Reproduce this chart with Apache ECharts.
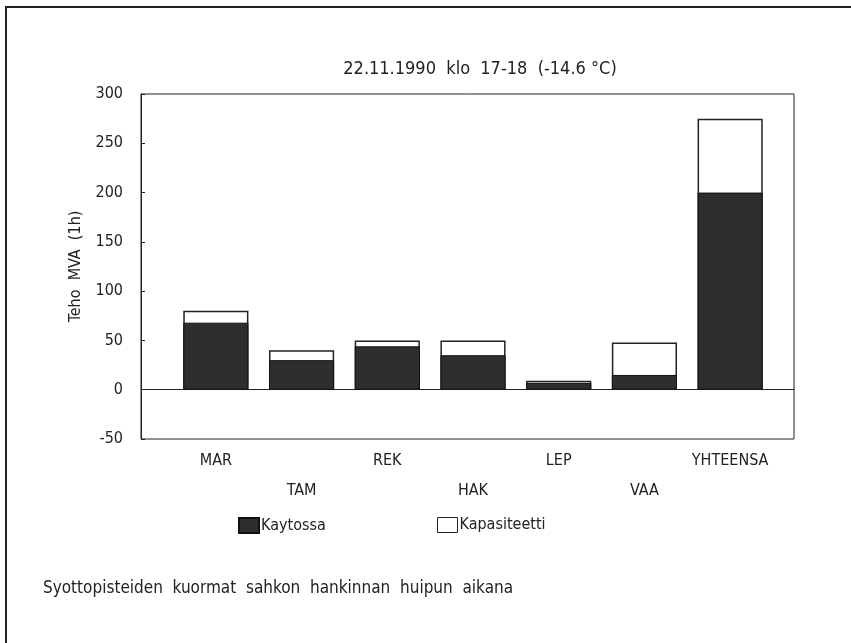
<!DOCTYPE html>
<html>
<head>
<meta charset="utf-8">
<script src="https://cdn.jsdelivr.net/npm/echarts@6/dist/echarts.min.js"></script>
<style>html,body{margin:0;padding:0;background:#fff}#c{width:851px;height:643px}</style>
</head>
<body>
<div id="c"></div>
<script>
const categories = ['MAR', 'TAM', 'REK', 'HAK', 'LEP', 'VAA', 'YHTEENSA'];
const kaytossa = [68, 30, 44, 35, 7, 15, 200];
const kapasiteetti = [80, 40, 50, 50, 9, 48, 275];
const yTicks = { min: -50, max: 300, interval: 50 };

const FONT = "'Liberation Sans Narrow', 'DejaVu Sans Condensed', 'Liberation Sans', sans-serif";
const chart = echarts.init(document.getElementById('c'));
chart.setOption({
  backgroundColor: '#fff',
  animation: false,
  textStyle: { fontFamily: FONT, color: '#222' },
  title: [
    { text: '22.11.1990  klo  17-18  (-14.6 °C)', left: 475, textAlign: 'center', top: 55,
      textStyle: { fontFamily: FONT, fontSize: 18, fontWeight: 'normal', color: '#222' } },
    { text: 'Syottopisteiden  kuormat  sahkon  hankinnan  huipun  aikana', left: 38, top: 575,
      textStyle: { fontFamily: FONT, fontSize: 17, fontWeight: 'normal', color: '#222' } }
  ],
  legend: [
    { data: ['Kaytossa'], icon: 'rect', left: 233, top: 512, itemWidth: 20, itemHeight: 15,
      textStyle: { fontFamily: FONT, fontSize: 16, color: '#222', padding: [0,0,0,-3] } },
    { data: [{ name: 'Kapasiteetti', itemStyle: { color: '#fff', borderColor: '#222', borderWidth: 1 } }],
      icon: 'rect', left: 432, top: 512, itemWidth: 20, itemHeight: 15,
      textStyle: { fontFamily: FONT, fontSize: 16, color: '#222', padding: [0,0,0,-3] } }
  ],
  graphic: [
    { type: 'polyline', shape: { points: [[6, 643], [6, 7], [851, 7]] },
      style: { stroke: '#222', lineWidth: 2, fill: null } }
  ],
  grid: [
    { left: 141, right: 57, top: 94, bottom: 204, show: true, borderColor: '#222', borderWidth: 1 },
    { left: 173, right: 78, top: 94, bottom: 204 }
  ],
  xAxis: [
    { gridIndex: 0, type: 'value', min: 0, max: 1, axisLine: { show: true, onZero: true, lineStyle: { color: '#222' } },
      axisTick: { show: false }, axisLabel: { show: false }, splitLine: { show: false } },
    { gridIndex: 1, type: 'category', data: categories, axisLine: { show: false }, axisTick: { show: false },
      axisLabel: { margin: 7, fontSize: 16, lineHeight: 30, color: '#222', fontFamily: FONT, interval: 0,
        formatter: (v, i) => (i % 2 ? '\n' + v : v) } }
  ],
  yAxis: [
    { gridIndex: 0, type: 'value', min: yTicks.min, max: yTicks.max, interval: yTicks.interval,
      name: 'Teho  MVA  (1h)', nameLocation: 'middle', nameGap: 57,
      nameTextStyle: { fontFamily: FONT, fontSize: 16, color: '#222' },
      axisLine: { show: true, lineStyle: { color: '#222' } },
      axisTick: { show: true, inside: true, length: 4, lineStyle: { color: '#222' } },
      axisLabel: { fontSize: 16, color: '#222', margin: 18, fontFamily: FONT },
      splitLine: { show: false } },
    { gridIndex: 1, type: 'value', min: yTicks.min, max: yTicks.max, interval: yTicks.interval, show: false,
      splitLine: { show: false } }
  ],
  series: [
    { name: 'Kapasiteetti', type: 'bar', xAxisIndex: 1, yAxisIndex: 1, data: kapasiteetti,
      barWidth: '76%', barGap: '-100%',
      itemStyle: { color: '#fff', borderColor: '#222', borderWidth: 1.5 } },
    { name: 'Kaytossa', type: 'bar', xAxisIndex: 1, yAxisIndex: 1, data: kaytossa,
      barWidth: '76%', barGap: '-100%',
      itemStyle: { color: '#2e2e2e', borderColor: '#111', borderWidth: 1 } }
  ]
});
</script>
</body>
</html>
